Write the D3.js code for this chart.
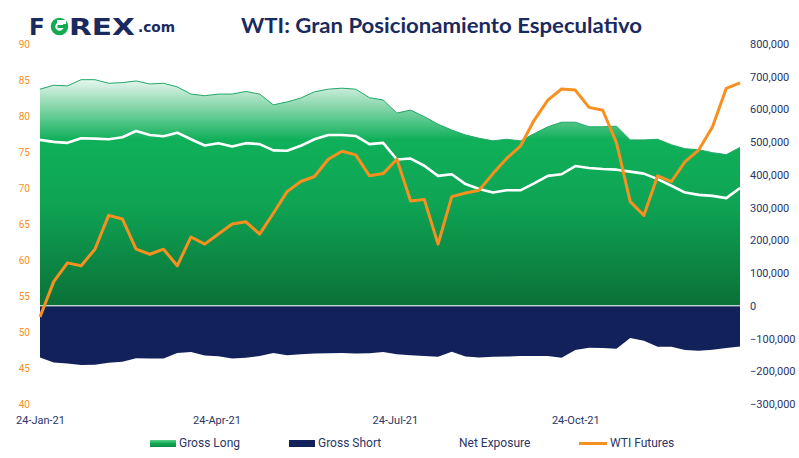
<!DOCTYPE html>
<html>
<head>
<meta charset="utf-8">
<script src="https://cdn.jsdelivr.net/npm/d3@7"></script>
<style>
  html, body { margin: 0; padding: 0; background: #ffffff; }
  svg { display: block; }
</style>
</head>
<body>
<div id="chart"></div>
<script>
// ---- Data ----
const dates = ["2021-01-24","2021-01-31","2021-02-07","2021-02-14","2021-02-21","2021-02-28","2021-03-07","2021-03-14","2021-03-21","2021-03-28","2021-04-04","2021-04-11","2021-04-18","2021-04-25","2021-05-02","2021-05-09","2021-05-16","2021-05-23","2021-05-30","2021-06-06","2021-06-13","2021-06-20","2021-06-27","2021-07-04","2021-07-11","2021-07-18","2021-07-25","2021-08-01","2021-08-08","2021-08-15","2021-08-22","2021-08-29","2021-09-05","2021-09-12","2021-09-19","2021-09-26","2021-10-03","2021-10-10","2021-10-17","2021-10-24","2021-10-31","2021-11-07","2021-11-14","2021-11-21","2021-11-28","2021-12-05","2021-12-12","2021-12-19","2021-12-26","2022-01-02","2022-01-09","2022-01-16"];

const grossLong = [662000,674000,672000,691000,691000,680000,682000,687000,678000,680000,669000,647000,642000,647000,647000,655000,647000,614000,623000,635000,654000,662000,665000,662000,636000,629000,589000,598000,578000,555000,537000,522000,512000,504000,509000,504000,526000,547000,561000,561000,547000,547000,549000,507000,507000,509000,492000,480000,477000,468000,462000,484000];

const grossShort = [-158000,-173000,-176000,-181000,-180000,-174000,-171000,-160000,-161000,-161000,-144000,-141000,-152000,-154000,-161000,-159000,-153000,-144000,-151000,-148000,-146000,-145000,-144000,-146000,-145000,-141000,-148000,-151000,-153000,-156000,-140000,-155000,-158000,-156000,-155000,-153000,-153000,-153000,-159000,-135000,-128000,-129000,-131000,-98000,-107000,-125000,-125000,-135000,-137000,-134000,-129000,-124000];

const netExposure = [507000,501000,498000,512000,511000,509000,515000,534000,522000,518000,529000,509000,490000,497000,487000,497000,494000,475000,474000,489000,509000,522000,522000,519000,494000,498000,447000,450000,428000,397000,402000,372000,357000,346000,353000,353000,374000,397000,402000,427000,421000,418000,416000,410000,404000,387000,367000,346000,339000,336000,329000,360000];

const wtiFutures = [52.1,57.0,59.6,59.2,61.5,66.2,65.7,61.5,60.8,61.5,59.2,63.2,62.2,63.6,65.0,65.3,63.6,66.5,69.5,70.9,71.6,74.0,75.1,74.6,71.7,72.0,74.0,68.2,68.4,62.2,68.8,69.3,69.7,72.0,74.1,75.8,79.4,82.2,83.75,83.6,81.2,80.8,76.3,68.1,66.2,71.7,70.9,73.65,75.3,78.5,83.85,84.6];

const leftTicks = [40,45,50,55,60,65,70,75,80,85,90];
const rightTicks = [-300000,-200000,-100000,0,100000,200000,300000,400000,500000,600000,700000,800000];
const xTickDates = ["2021-01-24","2021-04-24","2021-07-24","2021-10-24"];
const xTickLabels = ["24-Jan-21","24-Apr-21","24-Jul-21","24-Oct-21"];
const legendItems = ["Gross Long","Gross Short","Net Exposure","WTI Futures"];
const titleText = "WTI: Gran Posicionamiento Especulativo";

// ---- Setup ----
const W = 799, H = 458;
const plot = {left: 40, right: 740, top: 44, bottom: 404};
const parse = d3.timeParse("%Y-%m-%d");
const rows = dates.map((d, i) => ({
  date: parse(d), long: grossLong[i], short: grossShort[i], net: netExposure[i], wti: wtiFutures[i]
}));

const x = d3.scaleTime().domain([parse(dates[0]), parse(dates[dates.length-1])]).range([plot.left, plot.right]);
const yL = d3.scaleLinear().domain([40, 90]).range([plot.bottom, plot.top]);
const yR = d3.scaleLinear().domain([-300000, 800000]).range([plot.bottom, plot.top]);

const navy = "#13215a";
const textNavy = "#2b3566";
const orange = "#f7901e";

const svg = d3.select("#chart").append("svg").attr("width", W).attr("height", H)
  .style("font-family", "Roboto, 'Open Sans', sans-serif");

const defs = svg.append("defs");
const gLong = defs.append("linearGradient").attr("id", "gLong")
  .attr("gradientUnits", "userSpaceOnUse").attr("x1", 0).attr("x2", 0)
  .attr("y1", 78).attr("y2", yR(0));
gLong.append("stop").attr("offset", "0%").attr("stop-color", "#eef8f2");
gLong.append("stop").attr("offset", "27%").attr("stop-color", "#10b05a");
gLong.append("stop").attr("offset", "55%").attr("stop-color", "#0ea454");
gLong.append("stop").attr("offset", "100%").attr("stop-color", "#0b7137");

const gLeg = defs.append("linearGradient").attr("id", "gLeg").attr("x1", 0).attr("x2", 0).attr("y1", 0).attr("y2", 1);
gLeg.append("stop").attr("offset", "0%").attr("stop-color", "#5ccf8c");
gLeg.append("stop").attr("offset", "50%").attr("stop-color", "#10a852");
gLeg.append("stop").attr("offset", "100%").attr("stop-color", "#0c8a43");

// ---- Areas ----
const areaLong = d3.area().x(d => x(d.date)).y0(yR(0)).y1(d => yR(d.long));
const areaShort = d3.area().x(d => x(d.date)).y0(yR(0)).y1(d => yR(d.short));

svg.append("path").datum(rows).attr("d", areaLong).attr("fill", "url(#gLong)");
svg.append("path").datum(rows)
  .attr("d", d3.line().x(d => x(d.date)).y(d => yR(d.long)))
  .attr("fill", "none").attr("stroke", "#22a868").attr("stroke-width", 1);
svg.append("path").datum(rows).attr("d", areaShort).attr("fill", navy);

// zero line
svg.append("line").attr("x1", plot.left).attr("x2", plot.right)
  .attr("y1", yR(0)).attr("y2", yR(0)).attr("stroke", "#ffffff").attr("stroke-width", 1);

// net exposure
svg.append("path").datum(rows)
  .attr("d", d3.line().x(d => x(d.date)).y(d => yR(d.net)))
  .attr("fill", "none").attr("stroke", "#ffffff").attr("stroke-width", 2.6).attr("stroke-linejoin", "round");

// WTI
svg.append("path").datum(rows)
  .attr("d", d3.line().x(d => x(d.date)).y(d => yL(d.wti)))
  .attr("fill", "none").attr("stroke", orange).attr("stroke-width", 3).attr("stroke-linejoin", "round");

// ---- Axes ----
const axL = svg.append("g").attr("transform", `translate(30,0)`)
  .call(d3.axisLeft(yL).tickValues(leftTicks).tickSize(0).tickPadding(0).tickFormat(d3.format("d")));
axL.select(".domain").remove();
axL.selectAll("text").attr("fill", orange).style("font-size", "10px").style("font-family", "Roboto, sans-serif");

const axR = svg.append("g").attr("transform", `translate(750,0)`)
  .call(d3.axisRight(yR).tickValues(rightTicks).tickSize(0).tickPadding(0).tickFormat(d3.format(",")));
axR.select(".domain").remove();
axR.selectAll("text").attr("fill", textNavy).style("font-size", "11px").style("font-family", "Roboto, sans-serif");

const axB = svg.append("g").attr("transform", `translate(0,${plot.bottom})`)
  .call(d3.axisBottom(x).tickValues(xTickDates.map(parse)).tickSize(0).tickPadding(12)
    .tickFormat((d, i) => xTickLabels[i]));
axB.select(".domain").remove();
axB.selectAll("text").attr("fill", textNavy).style("font-size", "11px").style("font-family", "Roboto, sans-serif");

// ---- Title ----
svg.append("text").attr("x", 241).attr("y", 33).text(titleText)
  .attr("fill", "#1b2a5e").style("font-family", "Lato, 'Open Sans', sans-serif")
  .style("font-weight", "bold").style("font-size", "21px")
  .attr("textLength", 401).attr("lengthAdjust", "spacingAndGlyphs");

// ---- Logo ----
const logo = svg.append("g");
const logoFont = "'DejaVu Sans', 'Liberation Sans', sans-serif";
logo.append("text").attr("x", 29).attr("y", 35).text("F")
  .attr("fill", "#1b2a5e").style("font-family", logoFont).style("font-weight", "bold").style("font-size", "23px");
logo.append("circle").attr("cx", 59.5).attr("cy", 26.5).attr("r", 6.5)
  .attr("fill", "none").attr("stroke", "#13a94f").attr("stroke-width", 4.5);
logo.append("rect").attr("x", 57).attr("y", 20).attr("width", 9).attr("height", 4).attr("fill", "#ffffff");
logo.append("rect").attr("x", 57.5).attr("y", 25).attr("width", 7).attr("height", 3).attr("fill", "#13a94f");
logo.append("text").attr("x", 69).attr("y", 35).text("REX")
  .attr("fill", "#1b2a5e").style("font-family", logoFont).style("font-weight", "bold").style("font-size", "23px")
  .attr("textLength", 66).attr("lengthAdjust", "spacingAndGlyphs");
logo.append("text").attr("x", 138).attr("y", 32).text(".com")
  .attr("fill", "#1b2a5e").style("font-family", logoFont).style("font-weight", "bold").style("font-size", "14px")
  .attr("textLength", 37).attr("lengthAdjust", "spacingAndGlyphs");

// ---- Legend ----
const leg = svg.append("g").style("font-family", "Roboto, sans-serif").style("font-size", "12px");
const legY = 447;
leg.append("rect").attr("x", 150).attr("y", 440).attr("width", 26).attr("height", 7).attr("fill", "url(#gLeg)");
leg.append("text").attr("x", 179).attr("y", legY).text(legendItems[0]).attr("fill", textNavy);
leg.append("rect").attr("x", 289).attr("y", 440).attr("width", 26).attr("height", 7).attr("fill", navy);
leg.append("text").attr("x", 318).attr("y", legY).text(legendItems[1]).attr("fill", textNavy);
leg.append("line").attr("x1", 430).attr("x2", 456).attr("y1", 443.5).attr("y2", 443.5).attr("stroke", "#ffffff").attr("stroke-width", 3);
leg.append("text").attr("x", 459).attr("y", legY).text(legendItems[2]).attr("fill", textNavy);
leg.append("line").attr("x1", 579).attr("x2", 607).attr("y1", 443.5).attr("y2", 443.5).attr("stroke", orange).attr("stroke-width", 3);
leg.append("text").attr("x", 610).attr("y", legY).text(legendItems[3]).attr("fill", textNavy);
</script>
</body>
</html>
